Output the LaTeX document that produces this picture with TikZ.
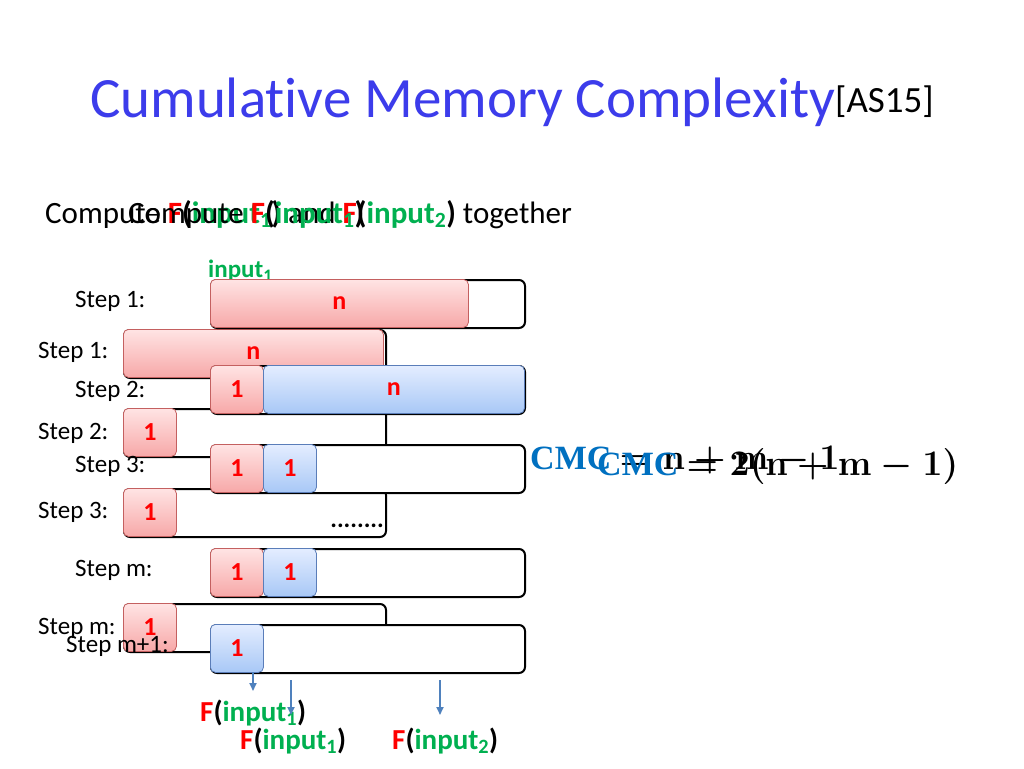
\RequirePackage{fix-cm}
\documentclass[tikz,border=0pt]{standalone}
\usepackage{fontspec}
\setmainfont{Carlito}[RawFeature={-liga;-clig;-dlig}]
\newfontfamily\cmcfont{Liberation Serif}
\usepackage{tikz}
\usetikzlibrary{arrows.meta}
\usepackage{xcolor}

\definecolor{titleblue}{RGB}{60,60,235}
\definecolor{cmcblue}{RGB}{0,112,192}
\definecolor{fred}{RGB}{255,0,0}
\definecolor{ingreen}{RGB}{0,176,80}
\definecolor{pinktop}{RGB}{255,228,228}
\definecolor{pinkbot}{RGB}{247,168,168}
\definecolor{pinkline}{RGB}{196,96,96}
\definecolor{bluetop}{RGB}{228,237,255}
\definecolor{bluebot}{RGB}{168,200,246}
\definecolor{blueline}{RGB}{90,125,185}
\definecolor{arrowblue}{RGB}{79,129,189}

\newcommand{\sz}[1]{\fontsize{#1}{#1}\selectfont}
\newcommand{\inp}[1]{\textcolor{ingreen}{input\textsubscript{#1}}}
\newcommand{\Fin}[1]{\textbf{\textcolor{fred}{F}(\inp{#1})}}

\begin{document}
\begin{tikzpicture}[x=1pt, y=-1pt,
    slot/.style={draw=black, line width=2pt, fill=white, rounded corners=6pt,
      anchor=north west, minimum height=48pt, inner sep=0pt},
    redbox/.style={draw=pinkline, line width=0.8pt, top color=pinktop,
      bottom color=pinkbot, rounded corners=5pt, anchor=north west,
      minimum height=48pt, minimum width=53pt, inner sep=0pt,
      text=fred, font=\sz{26}\bfseries},
    bluebox/.style={redbox, draw=blueline, top color=bluetop, bottom color=bluebot},
    steplabel/.style={anchor=west, inner sep=0pt, font=\sz{25}},
    outarrow/.style={draw=arrowblue, line width=1.8pt, -{Triangle[length=8pt,width=7pt]}}]
    \useasboundingbox (0,0) rectangle (1024,768);
    \fill[white] (0,0) rectangle (1024,768);

    % title
    \node[anchor=base west, inner sep=0pt, text=titleblue, font=\sz{57}] (title) at (90,117)
      {Cumulat\kern0pt ive Memory Complexity};
    \node[anchor=base west, inner sep=0pt, font=\sz{37}] (ref) at (835,112) {[AS15]};

    % headline, two frames
    \node[anchor=base west, inner sep=0pt, font=\sz{31}] (headA) at (45,223)
      {Compute \Fin{1} and \Fin{2} together};
    \node[anchor=base west, inner sep=0pt, font=\sz{31}] (headB) at (128,223)
      {Compute \Fin{1}};

    % one input
    \node[slot, minimum width=262pt] (b1) at (123,329) {};
    \node[redbox, minimum width=260pt] (b1r) at (123,329) {n};
    \node[slot, minimum width=262pt] (b2) at (123,408) {};
    \node[redbox] (b2r) at (123,408) {1};
    \node[slot, minimum width=262pt] (b3) at (123,488) {};
    \node[redbox] (b3r) at (123,488) {1};
    \node[anchor=base east, inner sep=0pt, font=\sz{25}\bfseries] (dots) at (384,527) {........};
    \node[slot, minimum width=262pt] (bm) at (123,603) {};
    \node[redbox] (bmr) at (123,603) {1};
    \node[steplabel] (lb1) at (38,352) {Step 1:};
    \node[steplabel] (lb2) at (38,433) {Step 2:};
    \node[steplabel] (lb3) at (38,512) {Step 3:};
    \node[steplabel] (lbm) at (38,628) {Step m:};

    % two inputs
    \node[anchor=west, inner sep=0pt, font=\sz{25}\bfseries] (in1) at (208,271) {\inp{1}};
    \node[slot, minimum width=314pt] (a1) at (210,279) {};
    \node[redbox, minimum width=258pt] (a1r) at (210,279) {n};
    \node[slot, minimum width=314pt] (a2) at (210,365) {};
    \node[redbox] (a2r) at (210,365) {1};
    \node[bluebox, minimum width=261pt] (a2b) at (263,365) {n};
    \node[slot, minimum width=314pt] (a3) at (210,444) {};
    \node[redbox] (a3r) at (210,444) {1};
    \node[bluebox] (a3b) at (263,444) {1};
    \node[slot, minimum width=314pt] (am) at (210,548) {};
    \node[redbox] (amr) at (210,548) {1};
    \node[bluebox] (amb) at (263,548) {1};
    \node[slot, minimum width=314pt] (an) at (210,624) {};
    \node[bluebox] (anb) at (210,624) {1};
    \node[steplabel] (la1) at (75,301) {Step 1:};
    \node[steplabel] (la2) at (75,391) {Step 2:};
    \node[steplabel] (la3) at (75,466) {Step 3:};
    \node[steplabel] (lam) at (75,570) {Step m:};
    \node[steplabel] (lan) at (66,646) {Step m+1:};

    % outputs
    \node[anchor=base west, inner sep=0pt, font=\sz{29}] (outB) at (200,721) {\Fin{1}};
    \node[anchor=base west, inner sep=0pt, font=\sz{29}] (outA1) at (240,749) {\Fin{1}};
    \node[anchor=base west, inner sep=0pt, font=\sz{29}] (outA2) at (392,749) {\Fin{2}};
    \coordinate (tB) at (253,672);
    \coordinate (hB) at (253,691);
    \coordinate (tA1) at (291,680);
    \coordinate (hA1) at (291,715);
    \coordinate (tA2) at (440,680);
    \coordinate (hA2) at (440,715);
    \draw[outarrow] (tB) -- (hB);
    \draw[outarrow] (tA1) -- (hA1);
    \draw[outarrow] (tA2) -- (hA2);

    % cost
    \node[anchor=base west, inner sep=0pt, font=\sz{36}\boldmath] (cmcB) at (530,469)
      {{\cmcfont\sz{34}\bfseries\color{cmcblue}CMC} $=\mathbf{n}+\mathbf{m}-\mathbf{1}$};
    \node[anchor=base west, inner sep=0pt, font=\sz{36}\boldmath] (cmcA) at (597,475)
      {{\cmcfont\sz{34}\bfseries\color{cmcblue}CMC} $=\mathbf{2}(\mathbf{n}+\mathbf{m}-\mathbf{1})$};
\end{tikzpicture}
\end{document}
